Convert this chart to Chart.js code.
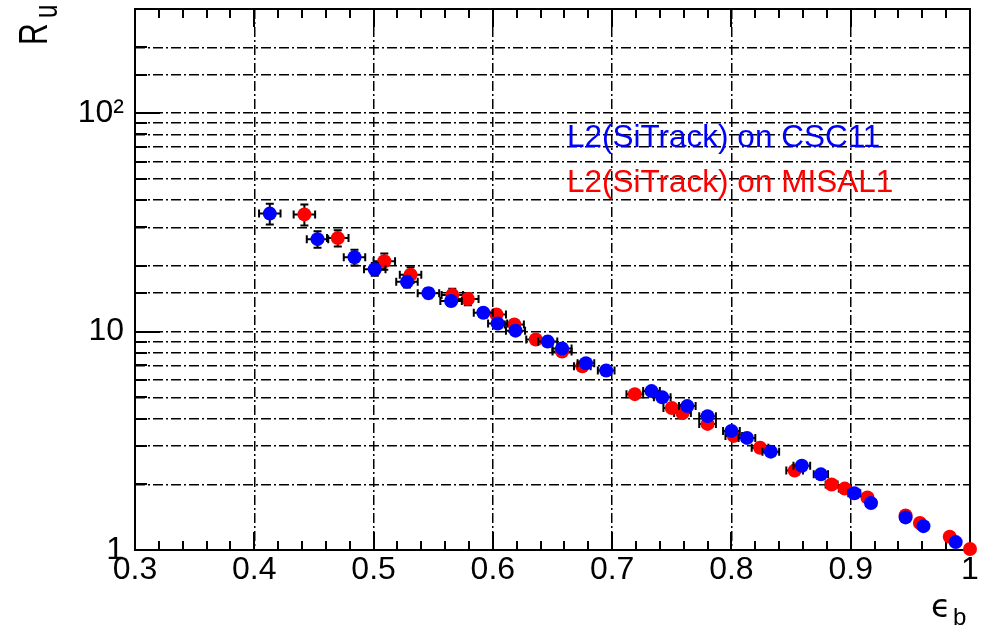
<!DOCTYPE html>
<html>
<head>
<meta charset="utf-8">
<style>
  html, body { margin: 0; padding: 0; background: #fff; }
  canvas { display: block; }
</style>
<script src="https://cdn.jsdelivr.net/npm/chart.js@4.4.1/dist/chart.umd.min.js"></script>
</head>
<body>
<canvas id="rejChart" width="988" height="629"></canvas>
<script>
// b-tagging efficiency vs light-jet rejection, two samples
const csc11Eff = [0.413, 0.453, 0.484, 0.501, 0.528, 0.546, 0.565, 0.592, 0.604, 0.619, 0.646, 0.658, 0.678, 0.695,
    0.733, 0.742, 0.763, 0.780, 0.800, 0.813, 0.833, 0.859, 0.875, 0.903, 0.917, 0.946, 0.961, 0.988];
const csc11Rej = [34.7, 26.5, 21.9, 19.3, 16.9, 15.0, 13.8, 12.2, 10.9, 10.1, 9.0, 8.37, 7.16, 6.64,
    5.34, 5.0, 4.56, 4.1, 3.51, 3.26, 2.82, 2.43, 2.22, 1.82, 1.64, 1.41, 1.286, 1.087];
const csc11EffErr = [0.009, 0.009, 0.009, 0.009, 0.009, 0.009, 0.009, 0.008, 0.008, 0.008, 0.008, 0.008, 0.007, 0.007,
    0.007, 0.007, 0.007, 0.007, 0.007, 0.007, 0.007, 0.007, 0.006, 0.005, 0.004, 0.003, 0.003, 0.002];
const csc11RejErr = [3.8, 2.3, 1.8, 1.3, 1.0, 0.8, 0.7, 0.55, 0.45, 0.4, 0.3, 0.28, 0.22, 0.2,
    0.15, 0.14, 0.12, 0.1, 0.08, 0.07, 0.06, 0.05, 0.04, 0.03, 0.025, 0.02, 0.015, 0.01];

const misal1Eff = [0.442, 0.470, 0.509, 0.531, 0.566, 0.579, 0.603, 0.618, 0.636, 0.658, 0.675, 0.719, 0.750,
    0.759, 0.780, 0.802, 0.824, 0.853, 0.884, 0.895, 0.914, 0.946, 0.958, 0.983, 1.0];
const misal1Rej = [34.4, 26.8, 21.0, 18.2, 14.7, 14.1, 11.97, 10.77, 9.2, 8.11, 6.94, 5.17, 4.47,
    4.24, 3.78, 3.33, 2.94, 2.31, 1.995, 1.91, 1.74, 1.44, 1.33, 1.15, 1.01];
const misal1EffErr = [0.009, 0.009, 0.009, 0.009, 0.009, 0.009, 0.008, 0.008, 0.008, 0.008, 0.007, 0.007, 0.007,
    0.007, 0.007, 0.007, 0.007, 0.007, 0.005, 0.005, 0.004, 0.003, 0.003, 0.002, 0.002];
const misal1RejErr = [3.8, 2.3, 1.8, 1.5, 1.0, 0.9, 0.6, 0.5, 0.4, 0.35, 0.25, 0.17, 0.14,
    0.13, 0.11, 0.09, 0.08, 0.06, 0.04, 0.04, 0.03, 0.02, 0.02, 0.01, 0.01];

const seriesNames = ['L2(SiTrack) on CSC11', 'L2(SiTrack) on MISAL1'];
const seriesColors = ['#0000ff', '#ff0000'];
const yLabelValues = [1, 10, 100];
const yLabelTexts = ['1', '10', '10\u00b2'];

const FONT = "'Liberation Sans', Arial, Helvetica, sans-serif";
const GRID_DASH = [10, 3, 2, 3];

function toPoints(xs, ys) {
    return xs.map((x, i) => ({ x: x, y: ys[i] }));
}

/**
 * Error bars with end caps, drawn just before each dataset's markers
 */
const errorBars = {
    id: 'errorBars',
    beforeDatasetDraw(chart, args) {
        const ds = chart.data.datasets[args.index];
        const xs = chart.scales.x, ys = chart.scales.y;
        const ctx = chart.ctx;
        const cap = 4;
        ctx.save();
        ctx.strokeStyle = '#000';
        ctx.lineWidth = 2;
        ds.data.forEach((p, i) => {
            const px = xs.getPixelForValue(p.x);
            const py = ys.getPixelForValue(p.y);
            const x0 = xs.getPixelForValue(p.x - ds.xErr[i]);
            const x1 = xs.getPixelForValue(p.x + ds.xErr[i]);
            const y0 = ys.getPixelForValue(p.y - ds.yErr[i]);
            const y1 = ys.getPixelForValue(p.y + ds.yErr[i]);
            ctx.beginPath();
            ctx.moveTo(x0, py); ctx.lineTo(x1, py);
            ctx.moveTo(x0, py - cap); ctx.lineTo(x0, py + cap);
            ctx.moveTo(x1, py - cap); ctx.lineTo(x1, py + cap);
            ctx.moveTo(px, y0); ctx.lineTo(px, y1);
            ctx.moveTo(px - cap, y0); ctx.lineTo(px + cap, y0);
            ctx.moveTo(px - cap, y1); ctx.lineTo(px + cap, y1);
            ctx.stroke();
        });
        ctx.restore();
    }
};

/**
 * Frame with inward tick marks (bottom/top on x, left on y)
 */
const frameTicks = {
    id: 'frameTicks',
    beforeDatasetsDraw(chart) {
        const { ctx, chartArea: a } = chart;
        const xs = chart.scales.x, ys = chart.scales.y;
        ctx.save();
        ctx.strokeStyle = '#000';
        ctx.lineWidth = 2;
        ctx.strokeRect(a.left, a.top, a.right - a.left, a.bottom - a.top);

        ctx.beginPath();
        for (let i = 0; i <= 35; i++) {
            const px = Math.round(xs.getPixelForValue(0.3 + i * 0.02));
            const len = i % 5 === 0 ? 18 : 9;
            ctx.moveTo(px, a.bottom); ctx.lineTo(px, a.bottom - len);
            ctx.moveTo(px, a.top); ctx.lineTo(px, a.top + len);
        }
        ys.ticks.forEach(t => {
            const py = Math.round(ys.getPixelForValue(t.value));
            const decade = Math.abs(Math.log10(t.value) - Math.round(Math.log10(t.value))) < 1e-6;
            ctx.moveTo(a.left, py); ctx.lineTo(a.left + (decade ? 25 : 12), py);
        });
        ctx.stroke();
        ctx.restore();
    }
};

/**
 * Axis titles and coloured series captions
 */
const annotations = {
    id: 'annotations',
    afterDraw(chart) {
        const ctx = chart.ctx;
        ctx.save();
        ctx.textBaseline = 'alphabetic';
        ctx.textAlign = 'left';

        // series captions
        ctx.font = '31.5px ' + FONT;
        ctx.fillStyle = seriesColors[0];
        ctx.fillText(seriesNames[0], 567, 147);
        ctx.fillStyle = seriesColors[1];
        ctx.fillText(seriesNames[1], 567, 192);

        // x title: epsilon_b
        ctx.fillStyle = '#000';
        ctx.font = "32px 'DejaVu Sans', sans-serif";
        ctx.fillText('\u03f5', 931, 617);
        ctx.font = '24px ' + FONT;
        ctx.fillText('b', 953, 625);

        // y title: R_u, rotated
        ctx.save();
        ctx.translate(47, 45);
        ctx.rotate(-Math.PI / 2);
        ctx.scale(1, 1.35);
        ctx.font = '30px ' + FONT;
        ctx.fillText('R', 0, 0);
        ctx.font = '24px ' + FONT;
        ctx.fillText('u', 27, 7.5);
        ctx.restore();

        ctx.restore();
    }
};

const ctx = document.getElementById('rejChart');

new Chart(ctx, {
    type: 'scatter',
    data: {
        datasets: [
            {
                label: seriesNames[0],
                data: toPoints(csc11Eff, csc11Rej),
                xErr: csc11EffErr,
                yErr: csc11RejErr,
                backgroundColor: seriesColors[0],
                pointRadius: 7,
                pointBorderWidth: 0,
                clip: false
            },
            {
                label: seriesNames[1],
                data: toPoints(misal1Eff, misal1Rej),
                xErr: misal1EffErr,
                yErr: misal1RejErr,
                backgroundColor: seriesColors[1],
                pointRadius: 7,
                pointBorderWidth: 0,
                clip: false
            }
        ]
    },
    options: {
        responsive: false,
        animation: false,
        events: [],
        layout: { padding: { left: 0, top: 9, right: 18, bottom: 0 } },
        plugins: {
            legend: { display: false },
            tooltip: { enabled: false }
        },
        scales: {
            x: {
                type: 'linear',
                min: 0.3,
                max: 1.0,
                afterFit: (scale) => {
                    scale.height = 79;
                    scale.paddingLeft = 0;
                    scale.paddingRight = 0;
                },
                ticks: {
                    stepSize: 0.1,
                    padding: 1,
                    color: '#000',
                    font: { family: FONT, size: 32 },
                    callback: (v) => String(Number(v.toFixed(1)))
                },
                grid: { color: '#000', lineWidth: 1.5, drawTicks: false },
                border: { display: false, dash: GRID_DASH }
            },
            y: {
                type: 'logarithmic',
                min: 1,
                max: 300,
                afterFit: (scale) => {
                    scale.width = 135;
                    scale.paddingTop = 0;
                    scale.paddingBottom = 0;
                },
                ticks: {
                    autoSkip: false,
                    padding: 11,
                    color: '#000',
                    font: { family: FONT, size: 32 },
                    callback: (v) => {
                        const k = yLabelValues.findIndex(t => Math.abs(t - v) < 1e-9);
                        return k >= 0 ? yLabelTexts[k] : '';
                    }
                },
                grid: { color: '#000', lineWidth: 1.5, drawTicks: false },
                border: { display: false, dash: GRID_DASH }
            }
        }
    },
    plugins: [errorBars, frameTicks, annotations]
});
</script>
</body>
</html>
